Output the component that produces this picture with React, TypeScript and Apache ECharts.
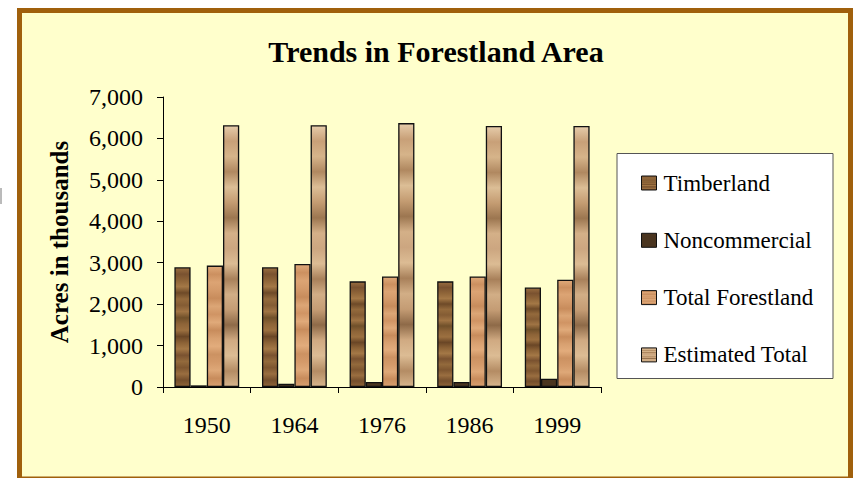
import React, { useEffect, useRef } from "react";
import * as echarts from "echarts";

const categories = ["1950", "1964", "1976", "1986", "1999"];
const timberland = [2890, 2890, 2550, 2550, 2400];
const noncommercial = [40, 80, 120, 120, 200];
const totalForestland = [2930, 2970, 2670, 2670, 2590];
const estimatedTotal = [6320, 6320, 6370, 6300, 6300];
const seriesNames = ["Timberland", "Noncommercial", "Total Forestland", "Estimated Total"];

const FONT = "'Liberation Serif', 'Times New Roman', serif";

function bands(colors: string[], x2: number, y2: number) {
  const n = colors.length - 1;
  return new echarts.graphic.LinearGradient(
    0,
    0,
    x2,
    y2,
    colors.map((c, i) => ({ offset: i / n, color: c }))
  );
}

const woodDark = bands(
  ["#9a6e40", "#7a5230", "#8e6438", "#a47846", "#6e4a28", "#946a3c", "#845c34", "#a07444", "#70502a", "#8e6438", "#9c7040", "#6a4626", "#8c6236", "#a47846", "#7a5230", "#936a3c", "#7e5630", "#9a6e40", "#744e2c", "#8e6438"],
  0, 1
);
const woodLight = bands(
  ["#e0aa7a", "#cc9060", "#dca474", "#d49a6a", "#c88c5c", "#dca676", "#d09464", "#e0aa7a", "#c88c5c", "#d8a070", "#e2ac7c", "#cc9262", "#d49a6a", "#dea878", "#c88c5c", "#d8a070"],
  0, 1
);
const paper = bands(
  ["#e6ccaa", "#c8a078", "#d6b48a", "#b08860", "#dcbe96", "#c49c72", "#9c7650", "#d4b088", "#cca680", "#dcbc94", "#a8805a", "#d2ae86", "#c49c74", "#8e6a48", "#d0aa82", "#dcbc94", "#b48c64", "#d6b48c"],
  0, 1
);
const nonColor = "#4a3520";

export default function App() {
  const ref = useRef<HTMLDivElement>(null);
  useEffect(() => {
    if (!ref.current) return;
    const chart = echarts.init(ref.current, undefined, { renderer: "svg" });
    const fills = [woodDark, nonColor, woodLight, paper];
    const datasets = [timberland, noncommercial, totalForestland, estimatedTotal];
    chart.setOption({
      animation: false,
      backgroundColor: "#ffffff",
      graphic: [
        {
          type: "rect",
          shape: { x: 19.5, y: 10.5, width: 831, height: 468.5 },
          style: { fill: "#ffffcc", stroke: "#a0600c", lineWidth: 5 },
          z: -10,
        },
        {
          type: "rect",
          shape: { x: 617, y: 153.5, width: 216, height: 225 },
          style: { fill: "#ffffff", stroke: "#555555", lineWidth: 1 },
          z: -5,
        },
        {
          type: "line",
          shape: { x1: 1, y1: 188, x2: 1, y2: 204 },
          style: { stroke: "#777777", lineWidth: 1 },
        },
        {
          type: "text",
          x: 436,
          y: 51,
          style: {
            text: "Trends in Forestland Area",
            align: "center",
            verticalAlign: "middle",
            font: `bold 30px ${FONT}`,
            fill: "#000",
          },
        },
      ],
      legend: {
        orient: "vertical",
        left: 636,
        top: 166,
        icon: "rect",
        itemWidth: 15,
        itemHeight: 14,
        itemGap: 33.3,
        data: seriesNames,
        textStyle: { fontFamily: FONT, fontSize: 23, color: "#000", lineHeight: 24, padding: [0, 0, 0, 2] },
        itemStyle: { borderColor: "#111", borderWidth: 1 },
      },
      grid: { left: 163, right: 252, top: 97, bottom: 91, containLabel: false },
      xAxis: {
        type: "category",
        data: categories,
        axisLine: { lineStyle: { color: "#000", width: 1 } },
        axisTick: { show: true, length: 6, lineStyle: { color: "#000" } },
        axisLabel: { fontFamily: FONT, fontSize: 24, color: "#000", margin: 26 },
      },
      yAxis: {
        type: "value",
        min: 0,
        max: 7000,
        interval: 1000,
        name: "Acres in thousands",
        nameLocation: "middle",
        nameGap: 91,
        nameTextStyle: { fontFamily: FONT, fontSize: 25, fontWeight: "bold", color: "#000" },
        axisLine: { show: true, lineStyle: { color: "#000", width: 1 } },
        axisTick: { show: true, length: 6, lineStyle: { color: "#000" } },
        splitLine: { show: false },
        axisLabel: {
          fontFamily: FONT,
          fontSize: 24,
          color: "#000",
          margin: 20,
          formatter: (v: number) => v.toLocaleString("en-US"),
        },
      },
      series: seriesNames.map((name, i) => ({
        name,
        type: "bar",
        data: datasets[i],
        barGap: "0%",
        barCategoryGap: "26%",
        itemStyle: { color: fills[i], borderColor: "#111", borderWidth: 1.3 },
      })),
    });
    return () => chart.dispose();
  }, []);
  return (
    <div
      ref={ref}
      style={{ position: "fixed", left: 0, top: 0, width: 853, height: 478 }}
    />
  );
}
